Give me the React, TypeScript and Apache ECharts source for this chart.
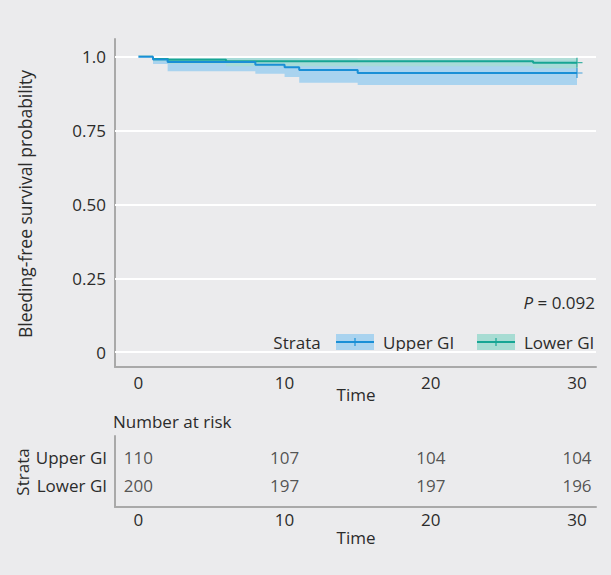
import React, { useEffect, useRef } from "react";
import * as echarts from "echarts";

// ---- data ----
const strata = ["Upper GI", "Lower GI"];
const upperTimes = [0, 1, 2, 8, 10, 11, 15, 30];
const upperSurv = [1, 0.991, 0.982, 0.973, 0.964, 0.955, 0.945, 0.945];
const upperLow = [1, 0.975, 0.951, 0.942, 0.931, 0.912, 0.904, 0.904];
const upperHigh = [1, 1, 1, 1, 0.999, 0.994, 0.989, 0.989];
const lowerTimes = [0, 1, 2, 6, 27, 30];
const lowerSurv = [1, 0.995, 0.99, 0.985, 0.98, 0.98];
const lowerLow = [1, 0.985, 0.976, 0.968, 0.961, 0.961];
const lowerHigh = [1, 1, 1, 1, 1, 1];
const censorTime = 30;
const yTicks = [0, 0.25, 0.5, 0.75, 1];
const xTicks = [0, 10, 20, 30];
const riskTimes = [0, 10, 20, 30];
const riskUpper = [110, 107, 104, 104];
const riskLower = [200, 197, 197, 196];
const pValue = "0.092";

const BLUE = "#1a8fd6";
const BLUE_BAND = "#a9d3ef";
const TEAL = "#17a594";
const TEAL_BAND = "#a7dcd3";
const BG = "#ebebed";
const TXT = "#2b2b2b";
const AX = "#a9a9a9";
const FONT = "Open Sans";
const FS = 17;

const zip = (a: number[], b: number[]) => a.map((v, i) => [v, b[i]]);

const CROSS = "path://M-0.6,-5H0.6V-0.6H5V0.6H0.6V5H-0.6V0.6H-5V-0.6H-0.6Z";

// step-shaped confidence band drawn as a polygon through the axis scales
function bandSeries(times: number[], low: number[], high: number[], color: string, opacity: number, z: number) {
  return {
    type: "custom",
    xAxisIndex: 0,
    yAxisIndex: 0,
    silent: true,
    z,
    data: [[times[0], low[0]]],
    renderItem: (_params: any, api: any) => {
      const top: number[][] = [];
      const bottom: number[][] = [];
      for (let i = 0; i < times.length; i++) {
        const t0 = times[i];
        const t1 = i < times.length - 1 ? times[i + 1] : times[i];
        top.push(api.coord([t0, high[i]]));
        top.push(api.coord([t1, high[i]]));
        bottom.push(api.coord([t0, low[i]]));
        bottom.push(api.coord([t1, low[i]]));
      }
      const points = top.concat(bottom.reverse());
      return {
        type: "polygon",
        shape: { points },
        style: { fill: color, opacity },
      };
    },
  };
}

export default function App() {
  const ref = useRef<HTMLDivElement>(null);
  useEffect(() => {
    if (!ref.current) return;
    const chart = echarts.init(ref.current, null, { renderer: "svg" });
    const xMin = -1.6;
    const xMax = 31.3;
    const labelCommon = { fontSize: FS, color: TXT, fontFamily: FONT };
    const option: any = {
      animation: false,
      backgroundColor: BG,
      textStyle: { fontFamily: FONT, fontSize: FS, color: TXT },
      grid: [
        { left: 115, top: 39, width: 481, height: 328 },
        { left: 115, top: 436, width: 481, height: 71 },
      ],
      xAxis: [
        {
          gridIndex: 0,
          type: "value",
          min: xMin,
          max: xMax,
          axisLine: { show: true, onZero: false, lineStyle: { color: AX, width: 2 } },
          axisTick: { show: false },
          splitLine: { show: false },
          axisLabel: { customValues: xTicks, margin: 7, ...labelCommon },
        },
        {
          gridIndex: 1,
          type: "value",
          min: xMin,
          max: xMax,
          axisLine: { show: true, onZero: false, lineStyle: { color: AX, width: 2 } },
          axisTick: { show: false },
          splitLine: { show: false },
          axisLabel: { customValues: xTicks, margin: 4, ...labelCommon },
        },
      ],
      yAxis: [
        {
          gridIndex: 0,
          type: "value",
          min: -0.05,
          max: 1.06,
          axisLine: { show: true, onZero: false, lineStyle: { color: AX, width: 2 } },
          axisTick: { show: false },
          splitLine: { show: false },
          axisLabel: {
            customValues: yTicks,
            margin: 9,
            ...labelCommon,
            formatter: (v: number) => (v === 0 ? "0" : v === 1 ? "1.0" : v.toFixed(2)),
          },
        },
        {
          gridIndex: 1,
          type: "value",
          min: 0.2,
          max: 2.8,
          axisLine: { show: true, onZero: false, lineStyle: { color: AX, width: 2 } },
          axisTick: { show: false },
          splitLine: { show: false },
          axisLabel: {
            customValues: [1, 2],
            margin: 8,
            ...labelCommon,
            formatter: (v: number) => (v === 2 ? strata[0] : v === 1 ? strata[1] : ""),
          },
        },
      ],
      series: [
        {
          type: "line",
          data: [],
          z: 1,
          markLine: {
            silent: true,
            symbol: ["none", "none"],
            label: { show: false },
            lineStyle: { color: "#ffffff", width: 2, type: "solid" },
            data: yTicks.map((v) => ({ yAxis: v })),
          },
        },
        bandSeries(upperTimes, upperLow, upperHigh, BLUE_BAND, 1, 2),
        bandSeries(lowerTimes, lowerLow, lowerHigh, TEAL_BAND, 0.85, 3),
        {
          name: strata[1],
          type: "line",
          data: zip(lowerTimes, lowerSurv),
          step: "end",
          symbol: "none",
          lineStyle: { color: TEAL, width: 2 },
          z: 4,
        },
        {
          name: strata[0],
          type: "line",
          data: zip(upperTimes, upperSurv),
          step: "end",
          symbol: "none",
          lineStyle: { color: BLUE, width: 2 },
          z: 5,
        },
        {
          type: "scatter",
          data: [[censorTime, lowerSurv[lowerSurv.length - 1]]],
          symbol: CROSS,
          symbolSize: [11, 10],
          itemStyle: { color: TEAL },
          z: 6,
        },
        {
          type: "scatter",
          data: [[censorTime, upperSurv[upperSurv.length - 1]]],
          symbol: CROSS,
          symbolSize: [11, 10],
          itemStyle: { color: BLUE },
          z: 6,
        },
        {
          type: "scatter",
          xAxisIndex: 1,
          yAxisIndex: 1,
          symbolSize: 0,
          data: riskTimes.map((t, i) => [t, 2, riskUpper[i]]),
          label: { show: true, position: "inside", ...labelCommon, formatter: (p: any) => String(p.value[2]) },
        },
        {
          type: "scatter",
          xAxisIndex: 1,
          yAxisIndex: 1,
          symbolSize: 0,
          data: riskTimes.map((t, i) => [t, 1, riskLower[i]]),
          label: { show: true, position: "inside", ...labelCommon, formatter: (p: any) => String(p.value[2]) },
        },
      ],
      graphic: [
        {
          type: "text",
          x: 25,
          y: 204,
          rotation: Math.PI / 2,
          style: {
            text: "Bleeding-free survival probability",
            fontFamily: FONT,
            fontSize: 17.5,
            fill: TXT,
            align: "center",
            verticalAlign: "middle",
          },
        },
        {
          type: "text",
          x: 356,
          y: 394,
          style: { text: "Time", fontFamily: FONT, fontSize: FS, fill: TXT, align: "center", verticalAlign: "middle" },
        },
        {
          type: "text",
          x: 595,
          y: 302,
          style: {
            text: "{i|P} = " + pValue,
            fontFamily: FONT,
            fontSize: FS,
            fill: TXT,
            align: "right",
            verticalAlign: "middle",
            rich: { i: { fontStyle: "italic", fontFamily: FONT, fontSize: FS, fill: TXT } },
          },
        },
        {
          type: "text",
          x: 297,
          y: 342,
          style: { text: "Strata", fontFamily: FONT, fontSize: FS, fill: TXT, align: "center", verticalAlign: "middle" },
        },
        { type: "rect", shape: { x: 336, y: 334, width: 38, height: 16 }, style: { fill: BLUE_BAND } },
        { type: "line", shape: { x1: 336, y1: 342, x2: 374, y2: 342 }, style: { stroke: BLUE, lineWidth: 2 } },
        { type: "line", shape: { x1: 355, y1: 338, x2: 355, y2: 346 }, style: { stroke: BLUE, lineWidth: 1.2 } },
        {
          type: "text",
          x: 383,
          y: 342,
          style: { text: strata[0], fontFamily: FONT, fontSize: FS, fill: TXT, align: "left", verticalAlign: "middle" },
        },
        { type: "rect", shape: { x: 477, y: 334, width: 38, height: 16 }, style: { fill: TEAL_BAND } },
        { type: "line", shape: { x1: 477, y1: 342, x2: 515, y2: 342 }, style: { stroke: TEAL, lineWidth: 2 } },
        { type: "line", shape: { x1: 496, y1: 338, x2: 496, y2: 346 }, style: { stroke: TEAL, lineWidth: 1.2 } },
        {
          type: "text",
          x: 524,
          y: 342,
          style: { text: strata[1], fontFamily: FONT, fontSize: FS, fill: TXT, align: "left", verticalAlign: "middle" },
        },
        {
          type: "text",
          x: 113,
          y: 421,
          style: { text: "Number at risk", fontFamily: FONT, fontSize: FS, fill: TXT, align: "left", verticalAlign: "middle" },
        },
        {
          type: "text",
          x: 22,
          y: 472,
          rotation: Math.PI / 2,
          style: { text: "Strata", fontFamily: FONT, fontSize: FS, fill: TXT, align: "center", verticalAlign: "middle" },
        },
        {
          type: "text",
          x: 356,
          y: 537,
          style: { text: "Time", fontFamily: FONT, fontSize: FS, fill: TXT, align: "center", verticalAlign: "middle" },
        },
      ],
    };
    chart.setOption(option);
    return () => chart.dispose();
  }, []);
  return (
    <div
      ref={ref}
      style={{ position: "absolute", left: 0, top: 0, width: 611, height: 575, background: BG }}
    />
  );
}
